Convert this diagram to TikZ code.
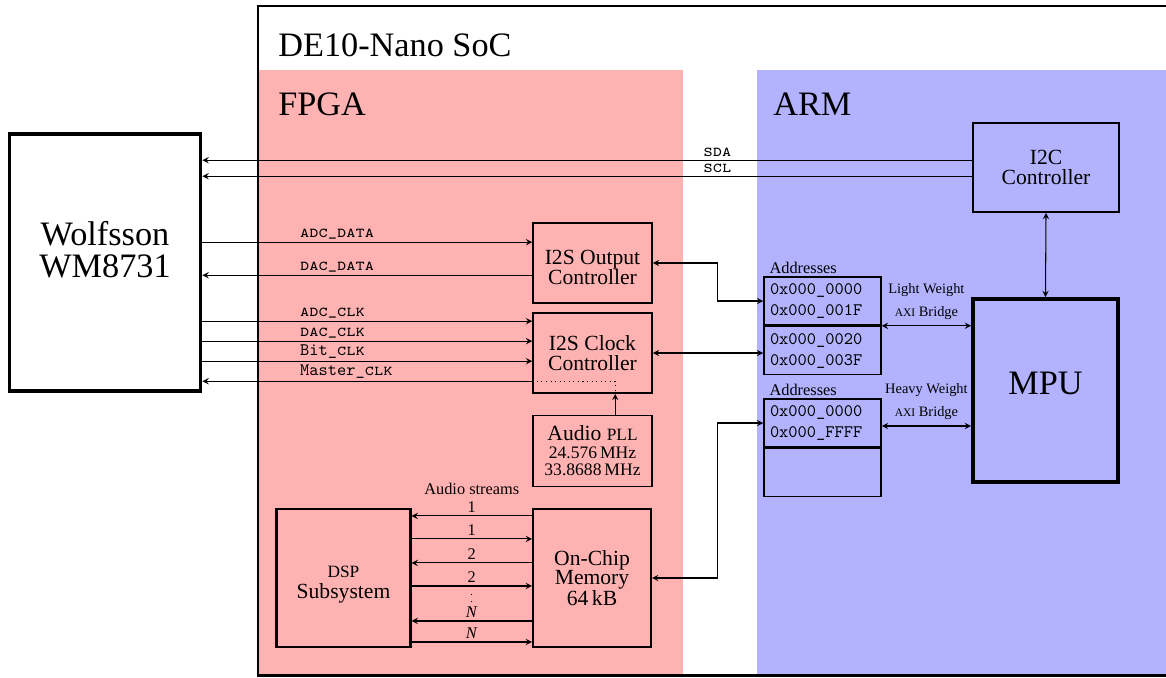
\documentclass[tikz,border=0pt]{standalone}
\usepackage{fontspec}
\setmainfont{Liberation Serif}
\newfontfamily\scserif{Liberation Serif}[Scale=0.8]
\usetikzlibrary{arrows,positioning,calc}
\tikzset{>=stealth}
\tikzstyle{title} = [anchor=base west, inner sep=0pt, font=\rmfamily\fontsize{19.5}{20}\selectfont]
\tikzstyle{chip} = [rectangle, draw=black, line width=2.2pt, align=center, font=\rmfamily\fontsize{19.5}{18.5}\selectfont]
\tikzstyle{block} = [rectangle, draw=black, line width=0.9pt, minimum width=2.38cm, minimum height=1.6cm, align=center, font=\rmfamily\fontsize{12.3}{11.5}\selectfont]
\tikzstyle{mem} = [rectangle, draw=black, line width=1.2pt, minimum height=2.76cm, align=center, font=\rmfamily\fontsize{12.3}{11}\selectfont]
\tikzstyle{addr} = [rectangle, draw=black, line width=0.9pt, minimum width=2.34cm, minimum height=0.96cm, text width=2.1cm, inner xsep=0.12cm, align=left, font=\ttfamily\fontsize{10}{12}\selectfont]
\tikzstyle{arrow} = [semithick,->]
\tikzstyle{dblarrow} = [semithick,<->]
\tikzstyle{sig} = [anchor=south west, pos=0.287, inner sep=1.5pt, font=\ttfamily\fontsize{10}{12}\selectfont]
\tikzstyle{num} = [midway, above, inner sep=1.5pt, font=\rmfamily\fontsize{9.3}{10}\selectfont]
\tikzstyle{note} = [inner sep=1pt, font=\rmfamily\fontsize{9.3}{10}\selectfont]
\tikzstyle{bridge} = [above, align=center, font=\rmfamily\fontsize{8.2}{13}\selectfont]

\begin{document}
\begin{tikzpicture}[x=0.02cm, y=-0.02cm]

\useasboundingbox (0,0) rectangle (1166,677);
\fill [red!30] (258,70) rectangle (683,675);
\fill [blue!30] (757,70) rectangle (1166,675);
\draw [line width=1.7pt] (1170,6) -- (258,6) -- (258,675) -- (1170,675);

\node (soc) [title] at (278,56) {DE10-Nano SoC};
\node (fpga) [title] at (278,115) {FPGA};
\node (arm) [title] at (773,115) {ARM};

\node (wolf) [chip, minimum width=3.82cm, minimum height=5.14cm] at (105,262.5) {Wolfsson\\WM8731\rule[-15pt]{0pt}{15pt}};
\node (i2c) [block, minimum width=2.92cm, minimum height=1.78cm] at (1046,167.5) {I2C\\Controller};
\node (mpu) [chip, minimum width=2.9cm, minimum height=3.66cm] at (1045.5,390.5) {MPU\rule[-8pt]{0pt}{8pt}};

\node (i2so) [block] at (592.5,263) {\rule{0pt}{13pt}I2S Output\\Controller};
\node (clk) [block] at (592.5,353) {I2S Clock\\Controller};
\node (pll) [block, minimum height=1.42cm, font=\rmfamily\fontsize{12.3}{10}\selectfont] at (592.5,451) {Audio {\scserif PLL}\\{\fontsize{10}{10}\selectfont 24.576\,MHz}\\{\fontsize{10}{10}\selectfont 33.8688\,MHz}};

\node (dsp) [mem, minimum width=2.68cm, font=\rmfamily\fontsize{12.3}{12.5}\selectfont] at (343.5,578) {\rule{0pt}{14pt}{\scserif DSP}\\Subsystem};
\node (onchip) [mem, minimum width=2.36cm] at (592,578) {On-Chip\\Memory\\64\,kB};
\node (streams) [note] at ($(dsp.north east)!0.5!(onchip.north west)+(0,-19)$) {Audio streams};

\node (lw1) [addr] at (822.5,301) {0x000\_0000\\0x000\_001F};
\node (lw2) [addr, below=0pt of lw1] {0x000\_0020\\0x000\_003F};
\node (lwaddr) [note, anchor=south west] at ([xshift=0.085cm]lw1.north west) {Addresses};

\node (hw1) [addr] at (822.5,423) {0x000\_0000\\0x000\_FFFF};
\node (hw2) [addr, below=0pt of hw1] {};
\node (hwaddr) [note, anchor=south west] at ([xshift=0.085cm]hw1.north west) {Addresses};

\coordinate (sda) at ($(i2c.north west)+(0,38)$);
\coordinate (scl) at ($(i2c.north west)+(0,54)$);
\coordinate (adcdata) at ($(i2so.north west)+(0,20)$);
\coordinate (dacdata) at ($(i2so.north west)+(0,53)$);
\coordinate (adcclk) at ($(clk.north west)+(0,9)$);
\coordinate (dacclk) at ($(clk.north west)+(0,29)$);
\coordinate (bitclk) at ($(clk.north west)+(0,49)$);
\coordinate (mclk) at ($(clk.north west)+(83,69)$);

\draw [arrow,<-] (wolf.east |- sda) -- node (sdalbl) [sig, anchor=south, pos=0.669] {\textsc{sda}} (sda);
\draw [arrow,<-] (wolf.east |- scl) -- node (scllbl) [sig, anchor=south, pos=0.669] {\textsc{scl}} (scl);
\draw [arrow] (wolf.east |- adcdata) -- node (adcdatalbl) [sig] {\textsc{adc\_data}} (adcdata);
\draw [arrow,<-] (wolf.east |- dacdata) -- node (dacdatalbl) [sig] {\textsc{dac\_data}} (dacdata);
\draw [arrow] (wolf.east |- adcclk) -- node (adcclklbl) [sig] {\textsc{adc\_clk}} (adcclk);
\draw [arrow] (wolf.east |- dacclk) -- node (dacclklbl) [sig] {\textsc{dac\_clk}} (dacclk);
\draw [arrow] (wolf.east |- bitclk) -- node (bitclklbl) [sig] {Bit\_\textsc{clk}} (bitclk);
\draw [arrow,<-] (wolf.east |- mclk) -- node (mclklbl) [sig] {Master\_\textsc{clk}} (clk.west |- mclk);
\draw [semithick, dotted] (clk.west |- mclk) -- (mclk) -- (mclk |- clk.south);
\draw [arrow] (pll.north -| mclk) -- (clk.south -| mclk);

\draw [dblarrow] (i2c.south) -- (mpu.north);
\draw [dblarrow] (i2so.east) -- ++(65,0) |- (lw1.west);
\draw [dblarrow] (clk.east) -- (clk.east -| lw2.west);
\draw [dblarrow] (onchip.east) -- ++(65,0) |- (hw1.west);
\draw [dblarrow] (lw1.south east) -- node (lwbridge) [bridge] {Light Weight\\{\scserif AXI} Bridge} (lw1.south east -| mpu.west);
\draw [dblarrow] ([yshift=-0.06cm]hw1.east) -- node (hwbridge) [bridge] {Heavy Weight\\{\scserif AXI} Bridge} ([yshift=-0.06cm]hw1.east -| mpu.west);

\coordinate (st1) at ($(onchip.north west)+(0,8)$);
\coordinate (st2) at ($(onchip.north west)+(0,31)$);
\coordinate (st3) at ($(onchip.north west)+(0,55)$);
\coordinate (st4) at ($(onchip.north west)+(0,78)$);
\coordinate (st5) at ($(onchip.north west)+(0,113)$);
\coordinate (st6) at ($(onchip.north west)+(0,134)$);

\draw [arrow,<-] (dsp.east |- st1) -- node (num1a) [num] {1} (st1);
\draw [arrow] (dsp.east |- st2) -- node (num1b) [num] {1} (st2);
\draw [arrow,<-] (dsp.east |- st3) -- node (num2a) [num] {2} (st3);
\draw [arrow] (dsp.east |- st4) -- node (num2b) [num] {2} (st4);
\draw [arrow,<-] (dsp.east |- st5) -- node (numNa) [num] {\textit{N}} (st5);
\draw [arrow] (dsp.east |- st6) -- node (numNb) [num] {\textit{N}} (st6);
\node (vdots) [inner sep=0pt, font=\fontsize{6}{6}\selectfont] at ($(dsp.east |- st4)!0.5!(st4)+(0,11)$) {$\vdots$};

\end{tikzpicture}
\end{document}
